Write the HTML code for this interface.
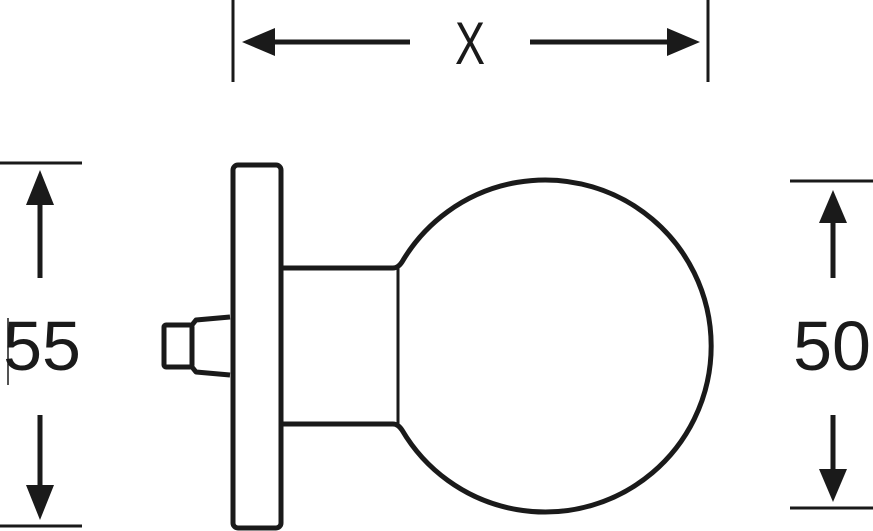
<!DOCTYPE html>
<html><head><style>html,body{margin:0;padding:0;background:#fff}svg{display:block}</style></head>
<body>
<svg width="873" height="531" viewBox="0 0 873 531" xmlns="http://www.w3.org/2000/svg">
<g fill="none" stroke="#1a1a1a" stroke-width="5" stroke-linejoin="round">
  <rect x="233" y="165" width="48" height="363" rx="5"/>
  <path d="M283 268 H393 Q398 268 402 262 A166 166 0 1 1 402 430 Q398 424 393 424 H283"/>
  <line x1="398" y1="268" x2="398" y2="424" stroke-width="3"/>
  <rect x="164" y="325" width="28" height="42" rx="2"/>
  <path d="M192 325 L196 320 L230 317 M192 367 L196 372 L230 375"/>
</g>
<g stroke="#1a1a1a" fill="#1a1a1a">
  <line x1="233" y1="0" x2="233" y2="82" stroke-width="3"/>
  <line x1="708" y1="0" x2="708" y2="82" stroke-width="3"/>
  <line x1="270" y1="42" x2="410" y2="42" stroke-width="5"/>
  <line x1="530" y1="42" x2="672" y2="42" stroke-width="5"/>
  <polygon points="242,42 275,28 275,56" stroke="none"/>
  <polygon points="700,42 667,28 667,56" stroke="none"/>
  <line x1="0" y1="163" x2="82" y2="163" stroke-width="3"/>
  <line x1="0" y1="526" x2="82" y2="526" stroke-width="3"/>
  <line x1="40" y1="200" x2="40" y2="278" stroke-width="5"/>
  <line x1="40" y1="415" x2="40" y2="490" stroke-width="5"/>
  <polygon points="40,170 26,205 54,205" stroke="none"/>
  <polygon points="40,520 26,485 54,485" stroke="none"/>
  <line x1="790" y1="181" x2="873" y2="181" stroke-width="3"/>
  <line x1="790" y1="508" x2="873" y2="508" stroke-width="3"/>
  <line x1="833" y1="215" x2="833" y2="278" stroke-width="5"/>
  <line x1="833" y1="415" x2="833" y2="475" stroke-width="5"/>
  <polygon points="833,190 819,223 847,223" stroke="none"/>
  <polygon points="833,502 819,469 847,469" stroke="none"/>
  <line x1="8" y1="318" x2="8" y2="385" stroke-width="1.5"/>
</g>
<g font-family="Liberation Sans, sans-serif" fill="#1a1a1a">
  <text x="470" y="64" font-size="60" text-anchor="middle" transform="translate(470 0) scale(0.75 1) translate(-470 0)">X</text>
  <text x="42" y="370" font-size="70" text-anchor="middle">55</text>
  <text x="832" y="370" font-size="70" text-anchor="middle">50</text>
</g>
</svg>
</body></html>
